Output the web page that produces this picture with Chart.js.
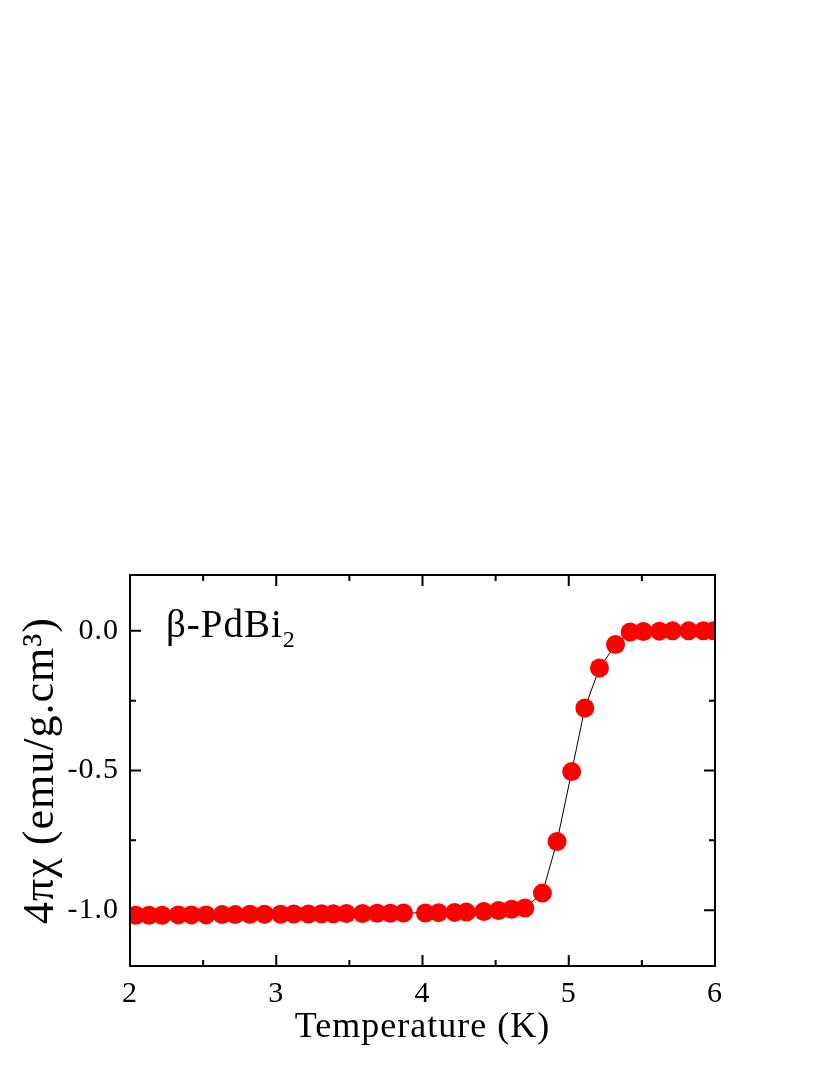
<!DOCTYPE html>
<html lang="en">
  <head>
    <meta charset="UTF-8" />
    <title>beta-PdBi2 susceptibility</title>
    <script src="https://cdn.jsdelivr.net/npm/chart.js@4"></script>
    <style>
      body {
        margin: 0;
        background: #fff;
      }
      canvas {
        display: block;
      }
    </style>
  </head>
  <body>
    <canvas id="chiChart" width="830" height="1075"></canvas>

    <script>
      // temperature (K)
      var temps = [
        2.04, 2.13, 2.22, 2.33, 2.42, 2.52, 2.63, 2.72, 2.82, 2.92, 3.03, 3.12,
        3.22, 3.31, 3.39, 3.48, 3.59, 3.69, 3.78, 3.87, 4.02, 4.11, 4.22, 4.3,
        4.42, 4.52, 4.61, 4.7, 4.82, 4.92, 5.02, 5.11, 5.21, 5.32, 5.42, 5.51,
        5.62, 5.71, 5.82, 5.92, 5.99,
      ];
      // 4 pi chi (emu/g.cm3)
      var chi = [
        -1.018, -1.018, -1.018, -1.017, -1.017, -1.017, -1.016, -1.016, -1.015,
        -1.015, -1.015, -1.014, -1.014, -1.013, -1.013, -1.012, -1.012, -1.011,
        -1.011, -1.01, -1.01, -1.009, -1.008, -1.007, -1.005, -1.001, -0.997,
        -0.992, -0.939, -0.754, -0.504, -0.276, -0.133, -0.049, -0.004, -0.002,
        -0.001, 0.0, 0.0, 0.0, 0.0,
      ];
      var xTicks = [2, 3, 4, 5, 6];
      var xMinor = [2.5, 3.5, 4.5, 5.5];
      var yTicks = [-1.0, -0.5, 0.0];
      var yMinor = [-0.75, -0.25];

      var serif = '"Liberation Serif", "Times New Roman", serif';
      Chart.defaults.font.family = serif;
      Chart.defaults.color = "#000";

      // origin-style frame: ticks inside on all four sides + sample label
      var frameTicks = {
        id: "frameTicks",
        beforeDraw: function (chart) {
          // reference text is set a bit wide
          chart.ctx.letterSpacing = "1px";
        },
        beforeDatasetsDraw: function (chart) {
          var ctx = chart.ctx;
          var a = chart.chartArea;
          var xs = chart.scales.x;
          var ys = chart.scales.y;
          ctx.save();
          ctx.strokeStyle = "#000";
          ctx.lineWidth = 2;
          ctx.beginPath();
          function xt(v, len) {
            var p = xs.getPixelForValue(v);
            ctx.moveTo(p, a.bottom);
            ctx.lineTo(p, a.bottom - len);
            ctx.moveTo(p, a.top);
            ctx.lineTo(p, a.top + len);
          }
          function yt(v, len) {
            var p = ys.getPixelForValue(v);
            ctx.moveTo(a.left, p);
            ctx.lineTo(a.left + len, p);
            ctx.moveTo(a.right, p);
            ctx.lineTo(a.right - len, p);
          }
          xTicks.forEach(function (v) { xt(v, 11); });
          xMinor.forEach(function (v) { xt(v, 6); });
          yTicks.forEach(function (v) { yt(v, 11); });
          yMinor.forEach(function (v) { yt(v, 6); });
          ctx.stroke();
          ctx.restore();
        },
        afterDatasetsDraw: function (chart) {
          var ctx = chart.ctx;
          var a = chart.chartArea;
          ctx.save();
          ctx.strokeStyle = "#000";
          ctx.lineWidth = 2;
          ctx.strokeRect(a.left, a.top, a.right - a.left, a.bottom - a.top);

          // sample name
          ctx.fillStyle = "#000";
          ctx.textBaseline = "alphabetic";
          ctx.font = "39px " + serif;
          var lx = a.left + 36;
          var ly = a.top + 62;
          ctx.fillText("β-PdBi", lx, ly);
          var w = ctx.measureText("β-PdBi").width;
          ctx.font = "24px " + serif;
          ctx.fillText("2", lx + w, ly + 10);
          ctx.restore();
        },
      };

      new Chart(document.getElementById("chiChart").getContext("2d"), {
        type: "line",
        data: {
          datasets: [
            {
              data: temps.map(function (t, i) {
                return { x: t, y: chi[i] };
              }),
              borderColor: "#000",
              borderWidth: 1,
              pointRadius: 9.5,
              pointHoverRadius: 9.5,
              pointBorderWidth: 0,
              pointBackgroundColor: "#ff0000",
              tension: 0,
            },
          ],
        },
        options: {
          responsive: false,
          animation: false,
          events: [],
          layout: {
            padding: { top: 575, right: 115, left: 0, bottom: 0 },
          },
          plugins: {
            legend: { display: false },
            tooltip: { enabled: false },
          },
          scales: {
            x: {
              type: "linear",
              min: 2,
              max: 6,
              afterBuildTicks: function (s) {
                s.ticks = xTicks.map(function (v) {
                  return { value: v };
                });
              },
              afterFit: function (s) {
                s.height = 109;
              },
              grid: { display: false, drawTicks: false },
              border: { display: false },
              ticks: {
                padding: 10,
                font: { size: 30 },
                callback: function (v) {
                  return String(v);
                },
              },
              title: {
                display: true,
                text: "Temperature (K)",
                font: { size: 36 },
                padding: { top: 0, bottom: 26 },
              },
            },
            y: {
              type: "linear",
              min: -1.2,
              max: 0.2,
              afterBuildTicks: function (s) {
                s.ticks = yTicks.map(function (v) {
                  return { value: v };
                });
              },
              afterFit: function (s) {
                s.width = 130;
              },
              grid: { display: false, drawTicks: false },
              border: { display: false },
              ticks: {
                padding: 11,
                font: { size: 30 },
                callback: function (v) {
                  return v.toFixed(1);
                },
              },
              title: {
                display: true,
                text: "4πχ (emu/g.cm³)",
                font: { size: 44 },
                padding: { top: 15, bottom: 0 },
              },
            },
          },
        },
        plugins: [frameTicks],
      });
    </script>
  </body>
</html>
